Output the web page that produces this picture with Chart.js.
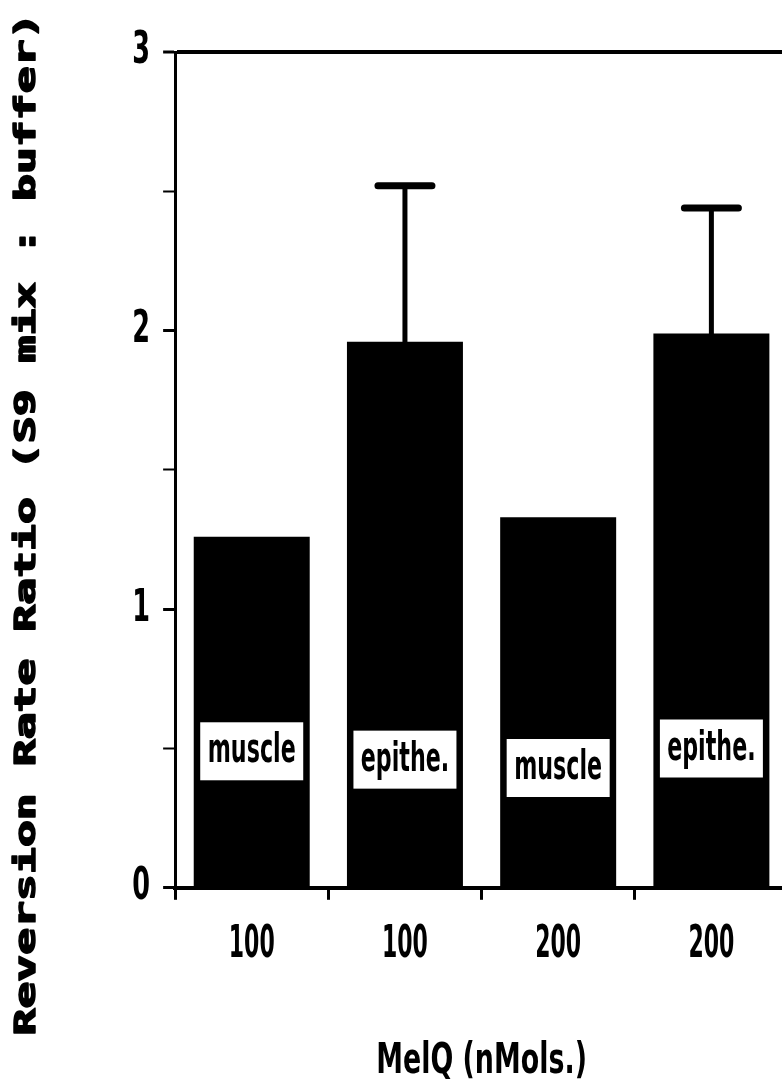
<!DOCTYPE html>
<html>
<head>
<meta charset="utf-8">
<script src="https://cdn.jsdelivr.net/npm/chart.js@4.4.1/dist/chart.umd.min.js"></script>
<style>
  html, body { margin: 0; padding: 0; background: #fff; overflow: hidden; }
  #wrap { position: relative; width: 790px; height: 1084px; }
</style>
</head>
<body>
<div id="wrap"><canvas id="chart"></canvas></div>
<script>
(function () {
    'use strict';

    // MelQ dose under each bar
    const doses = ['100', '100', '200', '200'];
    // S9 source printed inside each bar
    const tissues = ['muscle', 'epithe.', 'muscle', 'epithe.'];
    // reversion rate ratio (S9 mix : buffer)
    const ratios = [1.26, 1.96, 1.33, 1.99];
    // upper error, only the epithelial bars have one
    const errors = [null, 0.56, null, 0.45];
    const yTicks = [0, 1, 2, 3];
    const yTitle = 'Reversion Rate Ratio (S9 mix : buffer)';
    const xTitle = 'MelQ (nMols.)';

    const SANS = '"DejaVu Sans", sans-serif';

    // The original lettering is a tall, very condensed face and no condensed
    // font is installed, so axis labels/title are squeezed horizontally.
    const squashText = {
        id: 'squashText',
        beforeDraw(chart, args, opts) {
            Object.keys(opts.scales).forEach(id => {
                const scale = chart.scales[id];
                if (!scale || scale._squashed) return;
                const sx = opts.scales[id];
                scale._squashed = true;
                scale.drawLabels = function (area) {
                    const ctx = this.ctx;
                    this.getLabelItems(area).forEach(item => {
                        const o = item.options;
                        ctx.save();
                        ctx.translate(o.translation[0], o.translation[1]);
                        ctx.scale(sx, 1);
                        ctx.font = item.font.string;
                        ctx.fillStyle = o.color;
                        ctx.textAlign = o.textAlign;
                        ctx.textBaseline = o.textBaseline;
                        ctx.fillText(item.label, 0, item.textOffset);
                        ctx.restore();
                    });
                };
                const drawTitle = scale.drawTitle;
                scale.drawTitle = function () {
                    const cx = (this.left + this.right) / 2;
                    const ctx = this.ctx;
                    ctx.save();
                    ctx.translate(cx, 0);
                    ctx.scale(opts.title, 1);
                    ctx.translate(-cx, 0);
                    drawTitle.call(this);
                    ctx.restore();
                };
            });
        }
    };

    const errorBars = {
        id: 'errorBars',
        afterDatasetsDraw(chart, args, opts) {
            const ctx = chart.ctx;
            const y = chart.scales.y;
            ctx.save();
            ctx.strokeStyle = '#000';
            ctx.lineCap = 'round';
            chart.getDatasetMeta(0).data.forEach((bar, i) => {
                if (errors[i] == null) return;
                const top = y.getPixelForValue(ratios[i] + errors[i]);
                ctx.lineWidth = opts.stemWidth;
                ctx.beginPath(); ctx.moveTo(bar.x, bar.y); ctx.lineTo(bar.x, top); ctx.stroke();
                ctx.lineWidth = opts.capWidth;
                ctx.beginPath(); ctx.moveTo(bar.x - opts.capHalf, top); ctx.lineTo(bar.x + opts.capHalf, top); ctx.stroke();
            });
            ctx.restore();
        }
    };

    // white boxes with the tissue name, sitting inside the bars
    const tissueBoxes = {
        id: 'tissueBoxes',
        afterDatasetsDraw(chart, args, opts) {
            const ctx = chart.ctx;
            const y = chart.scales.y;
            ctx.save();
            ctx.font = opts.font;
            const sx = opts.textWidth / ctx.measureText(tissues[0]).width;
            ctx.textAlign = 'center';
            ctx.textBaseline = 'alphabetic';
            chart.getDatasetMeta(0).data.forEach((bar, i) => {
                const cy = y.getPixelForValue(opts.levels[i]);
                ctx.fillStyle = '#fff';
                ctx.fillRect(bar.x - opts.w / 2, cy - opts.h / 2, opts.w, opts.h);
                ctx.save();
                ctx.translate(bar.x, cy + opts.baseline);
                ctx.scale(sx, 1);
                ctx.fillStyle = '#000';
                ctx.fillText(tissues[i], 0, 0);
                ctx.restore();
            });
            ctx.restore();
        }
    };

    // stretched, heavy y title running the full height of the figure
    const sideTitle = {
        id: 'sideTitle',
        afterDraw(chart, args, opts) {
            const ctx = chart.ctx;
            ctx.save();
            ctx.font = opts.font;
            const sx = opts.length / ctx.measureText(yTitle).width;
            ctx.translate(opts.x, opts.y);
            ctx.rotate(-Math.PI / 2);
            ctx.scale(sx, 1);
            ctx.fillStyle = '#000';
            ctx.strokeStyle = '#000';
            ctx.lineWidth = opts.weight;
            ctx.lineJoin = 'round';
            ctx.textAlign = 'center';
            ctx.textBaseline = 'alphabetic';
            ctx.fillText(yTitle, 0, 0);
            ctx.strokeText(yTitle, 0, 0);
            ctx.restore();
        }
    };

    new Chart(document.getElementById('chart').getContext('2d'), {
        type: 'bar',
        data: {
            labels: doses,
            datasets: [{
                data: ratios,
                backgroundColor: '#000',
                borderWidth: 0,
                categoryPercentage: 1,
                barPercentage: 0.757
            }]
        },
        options: {
            responsive: true,
            maintainAspectRatio: false,
            animation: false,
            events: [],
            layout: { padding: { top: 52, left: 106.5, right: 2, bottom: 0 } },
            plugins: {
                legend: { display: false },
                tooltip: { enabled: false },
                squashText: { scales: { x: 0.5, y: 0.58 }, title: 0.64 },
                errorBars: { stemWidth: 5, capWidth: 7, capHalf: 27 },
                tissueBoxes: {
                    levels: [0.49, 0.46, 0.43, 0.50], w: 103, h: 58, textWidth: 88, baseline: 11,
                    font: 'bold 40px ' + SANS
                },
                sideTitle: {
                    x: 35, y: 524, length: 1023, weight: 1.5,
                    font: 'bold 28px "DejaVu Sans Mono", monospace'
                }
            },
            scales: {
                x: {
                    grid: {
                        drawOnChartArea: false,
                        tickLength: 12,
                        tickWidth: 3,
                        tickColor: '#000'
                    },
                    border: { display: true, color: '#000', width: 4 },
                    ticks: {
                        color: '#000',
                        padding: 19,
                        font: { size: 44, family: SANS, weight: 'bold' }
                    },
                    title: {
                        display: true,
                        text: xTitle,
                        color: '#000',
                        padding: { top: 46, bottom: -3 },
                        font: { size: 42, family: SANS, weight: 'bold' }
                    }
                },
                y: {
                    min: 0,
                    max: 3,
                    grid: {
                        drawOnChartArea: true,
                        color: c => (c.tick && c.tick.value === 3 ? '#000' : 'rgba(0,0,0,0)'),
                        lineWidth: c => (c.tick && c.tick.value === 3 ? 4 : 1),
                        tickLength: 12,
                        tickWidth: c => (c.tick && yTicks.includes(c.tick.value) ? 3 : 2),
                        tickColor: '#000'
                    },
                    border: { display: true, color: '#000', width: 3 },
                    ticks: {
                        stepSize: 0.5,
                        color: '#000',
                        padding: 13,
                        font: { size: 44, family: SANS, weight: 'bold' },
                        callback: v => (yTicks.includes(v) ? String(v) : '')
                    }
                }
            }
        },
        plugins: [squashText, errorBars, tissueBoxes, sideTitle]
    });
})();
</script>
</body>
</html>
